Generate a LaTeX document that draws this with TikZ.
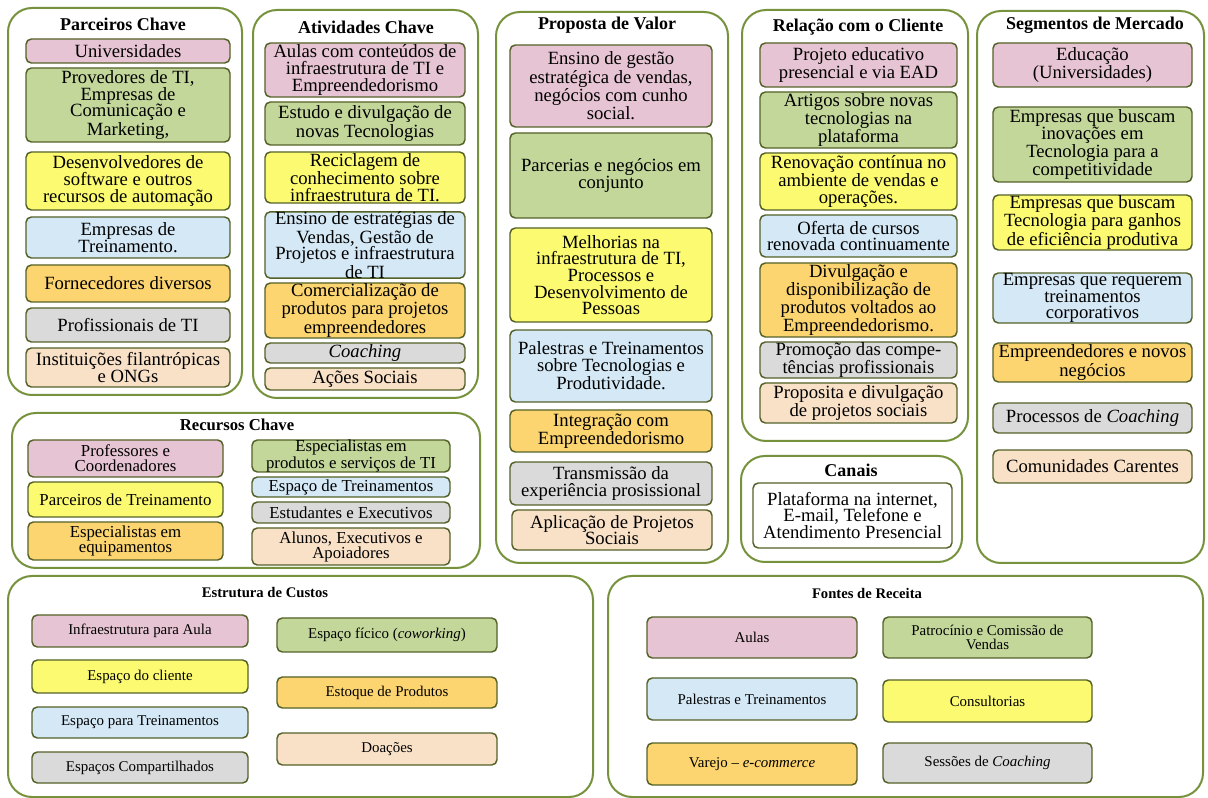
\documentclass[tikz,border=0pt]{standalone}
\usepackage{fontspec}
\setmainfont{Liberation Serif}
\definecolor{framec}{RGB}{118,146,60}
\definecolor{itemc}{RGB}{84,98,40}
\definecolor{pinkc}{RGB}{231,196,211}
\definecolor{greenc}{RGB}{196,215,155}
\definecolor{yellowc}{RGB}{252,250,112}
\definecolor{bluec}{RGB}{212,232,246}
\definecolor{orangec}{RGB}{252,213,112}
\definecolor{grayc}{RGB}{218,218,218}
\definecolor{peachc}{RGB}{249,225,200}
% box from (x1,y1) to (x2,y2), pixel units
\newcommand{\bmcnode}[7]{\node[#2, minimum width={(#5-#3)*0.75pt}, minimum height={(#6-#4)*0.75pt}] (#1) at ({(#3+#5)/2},{(#4+#6)/2}) {#7};}

\begin{document}
\begin{tikzpicture}[x=0.75pt,y=-0.75pt,line join=round,
	frame/.style={draw=framec,line width=1.5pt,rounded corners=18pt,fill=white,inner sep=0pt},
	item/.style={draw=itemc,line width=1.1pt,rounded corners=4pt,inner sep=0pt,align=center,font=\fontsize{14}{12.5}\selectfont},
	itemr/.style={item,font=\fontsize{12.6}{11.3}\selectfont},
	itemb/.style={item,font=\fontsize{11.2}{10}\selectfont},
	ttl/.style={font=\fontsize{13.5}{14}\selectfont\bfseries,inner sep=0pt},
	ttlr/.style={font=\fontsize{12.5}{13}\selectfont\bfseries,inner sep=0pt},
	ttlb/.style={font=\fontsize{11}{12}\selectfont\bfseries,inner sep=0pt}]
		\fill[white] (0,0) rectangle (1208,798);
		\useasboundingbox (0,0) rectangle (1208,798);
		\bmcnode{parceiros}{frame}{8}{8}{242}{395}{}
		\bmcnode{atividades}{frame}{253}{10}{478}{398}{}
		\bmcnode{proposta}{frame}{496}{12}{728}{563}{}
		\bmcnode{relacao}{frame}{742}{10}{968}{441}{}
		\bmcnode{canais}{frame}{741}{456}{962}{562}{}
		\bmcnode{segmentos}{frame}{977}{11}{1204}{563}{}
		\bmcnode{recursos}{frame}{12}{413}{480}{568}{}
		\bmcnode{custos}{frame}{8}{576}{593}{797}{}
		\bmcnode{receita}{frame}{608}{576}{1203}{797}{}
		\node[ttl] (tpc) at (123,24) {Parceiros Chave};
		\node[ttl] (tac) at (366,27) {Atividades Chave};
		\node[ttl] (tpv) at (607,25) {Proposta de Valor};
		\node[ttl] (trc) at (858,27) {Relação com o Cliente};
		\node[ttl] (tsm) at (1095,25) {Segmentos de Mercado};
		\node[ttl] (tcn) at (851,470) {Canais};
		\node[ttlr] (trk) at (237,425) {Recursos Chave};
		\node[ttlb] (tec) at (265,593) {Estrutura de Custos};
		\node[ttlb] (tfr) at (867,593) {Fontes de Receita};
		\bmcnode{pc1}{item,fill=pinkc}{26}{39}{230}{63}{Universidades}
		\bmcnode{pc2}{item,fill=greenc}{26}{68}{230}{142}{Provedores de TI,\\Empresas de\\Comunicação e\\Marketing,}
		\bmcnode{pc3}{item,fill=yellowc}{26}{152}{230}{210}{Desenvolvedores de\\software e outros\\recursos de automação}
		\bmcnode{pc4}{item,fill=bluec}{26}{217}{230}{258}{Empresas de\\Treinamento.}
		\bmcnode{pc5}{item,fill=orangec}{26}{265}{230}{302}{Fornecedores diversos}
		\bmcnode{pc6}{item,fill=grayc}{26}{308}{230}{342}{Profissionais de TI}
		\bmcnode{pc7}{item,fill=peachc}{26}{348}{230}{387}{Instituições filantrópicas\\e ONGs}
		\bmcnode{ac1}{item,fill=pinkc}{265}{43}{465}{97}{Aulas com conteúdos de\\infraestrutura de TI e\\Empreendedorismo}
		\bmcnode{ac2}{item,fill=greenc}{265}{102}{465}{145}{Estudo e divulgação de\\novas Tecnologias}
		\bmcnode{ac3}{item,fill=yellowc}{265}{152}{465}{203}{Reciclagem de\\conhecimento sobre\\infraestrutura de TI.}
		\bmcnode{ac4}{item,fill=bluec}{265}{213}{465}{277}{Ensino de estratégias de\\Vendas, Gestão de\\Projetos e infraestrutura\\de TI}
		\bmcnode{ac5}{item,fill=orangec}{265}{283}{465}{338}{Comercialização de\\produtos para projetos\\empreendedores}
		\bmcnode{ac6}{item,fill=grayc}{265}{343}{465}{363}{\textit{Coaching}}
		\bmcnode{ac7}{item,fill=peachc}{265}{368}{465}{390}{Ações Sociais}
		\bmcnode{pv1}{item,fill=pinkc}{510}{45}{712}{127}{Ensino de gestão\\estratégica de vendas,\\negócios com cunho\\social.}
		\bmcnode{pv2}{item,fill=greenc}{510}{133}{712}{218}{Parcerias e negócios em\\conjunto}
		\bmcnode{pv3}{item,fill=yellowc}{510}{228}{712}{322}{Melhorias na\\infraestrutura de TI,\\Processos e\\Desenvolvimento de\\Pessoas}
		\bmcnode{pv4}{item,fill=bluec}{510}{330}{712}{402}{Palestras e Treinamentos\\sobre Tecnologias e\\Produtividade.}
		\bmcnode{pv5}{item,fill=orangec}{510}{410}{712}{452}{Integração com\\Empreendedorismo}
		\bmcnode{pv6}{item,fill=grayc}{510}{462}{712}{505}{Transmissão da\\experiência prosissional}
		\bmcnode{pv7}{item,fill=peachc}{512}{510}{712}{550}{Aplicação de Projetos\\Sociais}
		\bmcnode{rc1}{item,fill=pinkc}{760}{43}{957}{87}{Projeto educativo\\presencial e via EAD}
		\bmcnode{rc2}{item,fill=greenc}{760}{92}{957}{148}{Artigos sobre novas\\tecnologias na\\plataforma}
		\bmcnode{rc3}{item,fill=yellowc}{760}{153}{957}{210}{Renovação contínua no\\ambiente de vendas e\\operações.}
		\bmcnode{rc4}{item,fill=bluec}{760}{215}{957}{257}{Oferta de cursos\\renovada continuamente}
		\bmcnode{rc5}{item,fill=orangec}{760}{263}{957}{337}{Divulgação e\\disponibilização de\\produtos voltados ao\\Empreendedorismo.}
		\bmcnode{rc6}{item,fill=grayc}{760}{342}{957}{378}{Promoção das compe-\\tências profissionais}
		\bmcnode{rc7}{item,fill=peachc}{760}{383}{957}{423}{Proposita e divulgação\\de projetos sociais}
		\bmcnode{cn1}{item,fill=white}{753}{483}{952}{548}{Plataforma na internet,\\E-mail, Telefone e\\Atendimento Presencial}
		\bmcnode{sm1}{item,fill=pinkc}{993}{43}{1192}{87}{Educação\\(Universidades)}
		\bmcnode{sm2}{item,fill=greenc}{993}{107}{1192}{182}{Empresas que buscam\\inovações em\\Tecnologia para a\\competitividade}
		\bmcnode{sm3}{item,fill=yellowc}{993}{195}{1192}{250}{Empresas que buscam\\Tecnologia para ganhos\\de eficiência produtiva}
		\bmcnode{sm4}{item,fill=bluec}{993}{273}{1192}{323}{Empresas que requerem\\treinamentos\\corporativos}
		\bmcnode{sm5}{item,fill=orangec}{993}{343}{1192}{382}{Empreendedores e novos\\negócios}
		\bmcnode{sm6}{item,fill=grayc}{993}{403}{1192}{433}{Processos de \textit{Coaching}}
		\bmcnode{sm7}{item,fill=peachc}{993}{450}{1192}{483}{Comunidades Carentes}
		\bmcnode{rk1}{itemr,fill=pinkc}{28}{440}{223}{477}{Professores e\\Coordenadores}
		\bmcnode{rk2}{itemr,fill=yellowc}{28}{482}{223}{517}{Parceiros de Treinamento}
		\bmcnode{rk3}{itemr,fill=orangec}{28}{522}{223}{560}{Especialistas em\\equipamentos}
		\bmcnode{rk4}{itemr,fill=greenc}{252}{440}{450}{472}{Especialistas em\\produtos e serviços de TI}
		\bmcnode{rk5}{itemr,fill=bluec}{252}{477}{450}{497}{Espaço de Treinamentos}
		\bmcnode{rk6}{itemr,fill=grayc}{252}{502}{450}{523}{Estudantes e Executivos}
		\bmcnode{rk7}{itemr,fill=peachc}{252}{528}{450}{565}{Alunos, Executivos e\\Apoiadores}
		\bmcnode{ec1}{itemb,fill=pinkc}{32}{615}{248}{647}{Infraestrutura para Aula}
		\bmcnode{ec2}{itemb,fill=yellowc}{32}{660}{248}{693}{Espaço do cliente}
		\bmcnode{ec3}{itemb,fill=bluec}{32}{707}{248}{738}{Espaço para Treinamentos}
		\bmcnode{ec4}{itemb,fill=grayc}{32}{752}{248}{783}{Espaços Compartilhados}
		\bmcnode{ec5}{itemb,fill=greenc}{277}{618}{497}{652}{Espaço fícico (\textit{coworking})}
		\bmcnode{ec6}{itemb,fill=orangec}{277}{677}{497}{708}{Estoque de Produtos}
		\bmcnode{ec7}{itemb,fill=peachc}{277}{733}{497}{765}{Doações}
		\bmcnode{fr1}{itemb,fill=pinkc}{647}{617}{857}{658}{Aulas}
		\bmcnode{fr2}{itemb,fill=greenc}{883}{617}{1092}{658}{Patrocínio e Comissão de\\Vendas}
		\bmcnode{fr3}{itemb,fill=bluec}{647}{678}{857}{720}{Palestras e Treinamentos}
		\bmcnode{fr4}{itemb,fill=yellowc}{883}{680}{1092}{722}{Consultorias}
		\bmcnode{fr5}{itemb,fill=orangec}{647}{743}{857}{785}{Varejo – \textit{e-commerce}}
		\bmcnode{fr6}{itemb,fill=grayc}{883}{743}{1092}{783}{Sessões de \textit{Coaching}}
	\end{tikzpicture}
\end{document}
